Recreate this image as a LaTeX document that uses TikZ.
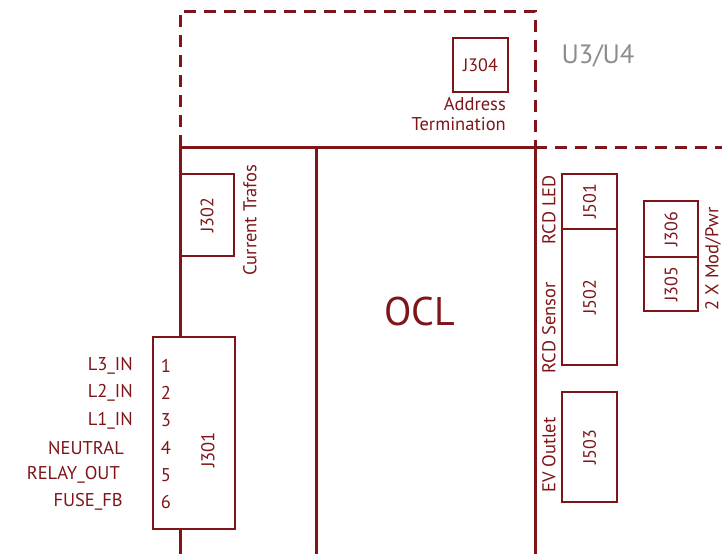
\documentclass[tikz,border=0pt]{standalone}
\usepackage{fontspec}
\setmainfont{PT Sans}
\usepackage{tikz}
\usetikzlibrary{positioning}
\definecolor{oclc}{HTML}{7E1518}
\definecolor{greyc}{HTML}{8C8C8C}
\tikzset{
  wire/.style={line width=3pt,oclc},
  dwire/.style={line width=3pt,oclc,dash pattern=on 12pt off 8pt},
  cbox/.style={draw=oclc,line width=2.5pt,text=oclc,inner sep=0pt,font=\fontsize{18}{20}\selectfont},
  lbl/.style={text=oclc,inner sep=0pt,font=\fontsize{18.5}{20.5}\selectfont}
}
\begin{document}
\begin{tikzpicture}[x=1pt,y=-1pt]
\useasboundingbox (0,0) rectangle (722,554);
\coordinate (tl) at (180,147);
\coordinate (bl) at (180,554);
\coordinate (tm) at (316,147);
\coordinate (bm) at (316,554);
\coordinate (tr) at (535,147);
\coordinate (br) at (535,554);
% U3/U4 area
\draw[dwire] (tl) -- (180,11) -- (535,11) -- (tr);
\draw[dwire] (tr) -- (722,147);
\draw[wire] (tl) -- (542,147);
\draw[wire] (tm) -- (bm);
\draw[wire] (tr) -- (br);
\node[text=greyc,inner sep=0pt,font=\fontsize{26.5}{29}\selectfont] (u34) at (598,56) {U3/U4};
\node[cbox,minimum width=55pt,minimum height=54pt] (j304) at (480.5,65) {J304};
\node[lbl,align=right,anchor=north east] (addr) at (506,97) {Address\\Termination};
% OCL
\node[lbl,font=\fontsize{40}{46}\selectfont] (ocl) at (420,311) {OCL};
% left side
\node[cbox,rotate=90,minimum width=82pt,minimum height=54pt] (j302) at (207,215) {J302};
\node[lbl,rotate=90] (trafo) at (250,220) {Current Trafos};
\node[cbox,minimum width=82pt,minimum height=192pt] (j301) at (194,433) {};
\node[lbl,rotate=90] (j301t) at (208,450) {J301};
\draw[wire] (tl) -- (tl |- j301.north);
\draw[wire] (bl |- j301.south) -- (bl);
\foreach \i/\x/\s in {1/133/L3\_IN,2/133/L2\_IN,3/133/L1\_IN,4/124/NEUTRAL,5/120/RELAY\_OUT,6/123/FUSE\_FB}{
  \node[lbl] (pin\i) at (166,{366+(\i-1)*27.2}) {\i};
  \node[lbl,anchor=east] (sig\i) at (\x,{366+(\i-1)*27.2}) {\s};
}
% right side
\node[cbox,rotate=90,minimum width=55pt,minimum height=55pt] (j501) at (589.5,201.5) {J501};
\node[cbox,rotate=90,minimum width=136pt,minimum height=55pt] (j502) at (589.5,297) {J502};
\node[cbox,rotate=90,minimum width=110pt,minimum height=55pt] (j503) at (589.5,447) {J503};
\node[cbox,rotate=90,minimum width=56pt,minimum height=54pt] (j306) at (671,229) {J306};
\node[cbox,rotate=90,minimum width=54pt,minimum height=54pt] (j305) at (671,284) {J305};
\node[lbl,rotate=90] (rcdled) at (549,210) {RCD LED};
\node[lbl,rotate=90] (rcdsen) at (549,328) {RCD Sensor};
\node[lbl,rotate=90] (evout) at (549,455) {EV Outlet};
\node[lbl,rotate=90] (modpwr) at (713,259) {2 X Mod/Pwr};
\end{tikzpicture}
\end{document}
